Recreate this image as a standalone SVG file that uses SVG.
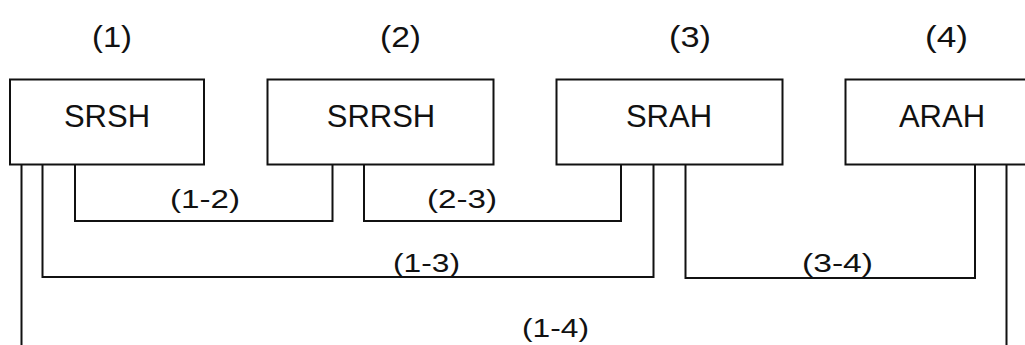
<svg xmlns="http://www.w3.org/2000/svg" width="1025" height="345" viewBox="0 0 1025 345">
  <style>
    .box { fill: #ffffff; stroke: #111111; stroke-width: 2; }
    .wire { fill: none; stroke: #111111; stroke-width: 2; stroke-linejoin: miter; }
    .name { font-family: "Liberation Sans", Arial, sans-serif; font-size: 31px; fill: #111111; text-anchor: middle; }
    .head { font-family: "Liberation Sans", Arial, sans-serif; font-size: 30px; fill: #111111; }
    .pair { font-family: "Liberation Sans", Arial, sans-serif; font-size: 25px; fill: #111111; }
  </style>
  <rect width="1025" height="345" fill="#ffffff"/>

  <!-- column headings -->
  <g id="headings">
    <text class="head" x="92" y="47" textLength="40" lengthAdjust="spacingAndGlyphs">(1)</text>
    <text class="head" x="380" y="47" textLength="41" lengthAdjust="spacingAndGlyphs">(2)</text>
    <text class="head" x="669" y="47" textLength="42" lengthAdjust="spacingAndGlyphs">(3)</text>
    <text class="head" x="925" y="47" textLength="43" lengthAdjust="spacingAndGlyphs">(4)</text>
  </g>

  <!-- links between the stages -->
  <g id="connectors">
    <path id="link-1-2" class="wire" d="M75,164 V221 H332.5 V164"/>
    <path id="link-2-3" class="wire" d="M364,164 V221 H621 V164"/>
    <path id="link-1-3" class="wire" d="M42.5,164 V277 H653.5 V164"/>
    <path id="link-3-4" class="wire" d="M685.5,164 V278 H975 V164"/>
    <path id="link-1-4" class="wire" d="M21.5,164 V350 M1006.5,164 V350"/>
    <text class="pair" x="170" y="208" textLength="70" lengthAdjust="spacingAndGlyphs">(1-2)</text>
    <text class="pair" x="427" y="208" textLength="70" lengthAdjust="spacingAndGlyphs">(2-3)</text>
    <text class="pair" x="393" y="272" textLength="67" lengthAdjust="spacingAndGlyphs">(1-3)</text>
    <text class="pair" x="802" y="272" textLength="71" lengthAdjust="spacingAndGlyphs">(3-4)</text>
    <text class="pair" x="522" y="337" textLength="67" lengthAdjust="spacingAndGlyphs">(1-4)</text>
  </g>

  <!-- stage boxes -->
  <g id="node-srsh">
    <rect class="box" x="10" y="79.5" width="194" height="85"/>
    <text class="name" x="107" y="127">SRSH</text>
  </g>
  <g id="node-srrsh">
    <rect class="box" x="267.5" y="79.5" width="226" height="85"/>
    <text class="name" x="381" y="127">SRRSH</text>
  </g>
  <g id="node-srah">
    <rect class="box" x="556.5" y="79.5" width="226" height="85"/>
    <text class="name" x="669" y="127">SRAH</text>
  </g>
  <g id="node-arah">
    <rect class="box" x="845.5" y="79.5" width="193" height="85"/>
    <text class="name" x="942" y="127">ARAH</text>
  </g>
</svg>
